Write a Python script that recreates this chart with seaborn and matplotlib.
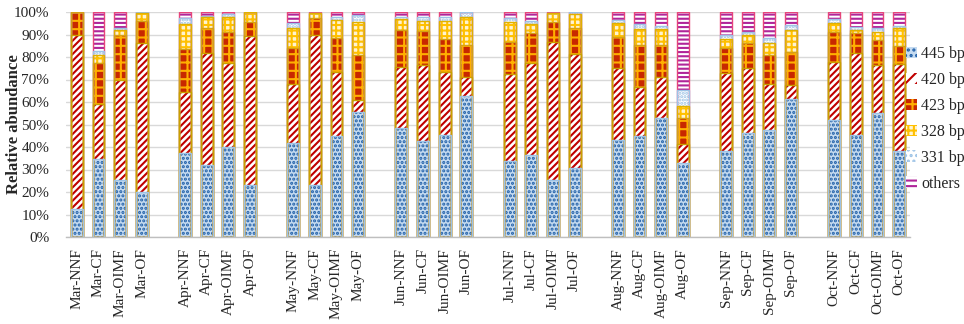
import pandas as pd
import numpy as np
import seaborn as sns
import matplotlib.pyplot as plt
from matplotlib.patches import Patch
from matplotlib.ticker import FuncFormatter

# samples, 8 months x 4 treatments
months = ['Mar', 'Apr', 'May', 'Jun', 'Jul', 'Aug', 'Sep', 'Oct']
treatments = ['NNF', 'CF', 'OIMF', 'OF']
samples = [f'{m}-{t}' for m in months for t in treatments]

# relative abundance (%)
bp445 = [12.5, 34.7, 25.5, 19.9, 37.5, 31.9, 40.0, 23.3,
         41.8, 23.0, 45.0, 55.5, 48.5, 42.6, 45.3, 62.8,
         33.7, 36.4, 25.5, 30.7, 43.0, 45.1, 52.7, 33.1,
         38.3, 46.3, 47.5, 61.3, 52.2, 45.3, 55.2, 38.3]
bp420 = [77.5, 24.3, 44.5, 66.5, 27.0, 50.0, 37.2, 66.0,
         26.4, 67.0, 28.4, 5.3, 27.2, 33.8, 28.1, 8.1,
         38.7, 40.8, 61.3, 50.6, 31.9, 21.7, 18.5, 8.1,
         34.4, 28.6, 20.3, 6.2, 25.7, 36.6, 21.2, 38.6]
bp423 = [10.0, 18.4, 20.0, 9.6, 19.0, 10.8, 13.8, 6.4,
         15.6, 7.3, 14.9, 20.1, 16.3, 15.3, 14.4, 14.4,
         14.4, 13.3, 8.9, 11.4, 14.1, 18.5, 14.1, 11.8,
         11.4, 11.1, 13.1, 14.8, 13.3, 8.6, 11.1, 8.0]
bp328 = [0.0, 3.3, 2.0, 3.4, 11.2, 4.9, 6.6, 4.3,
         8.9, 2.1, 8.1, 14.8, 4.7, 4.4, 8.3, 12.6,
         8.9, 4.2, 3.7, 6.4, 6.0, 7.0, 7.0, 5.2,
         3.7, 3.8, 5.5, 9.7, 4.1, 1.5, 3.7, 7.8]
bp331 = [0.0, 2.1, 0.9, 0.6, 2.5, 0.8, 1.5, 0.0,
         2.3, 0.2, 1.2, 3.0, 1.2, 1.5, 1.8, 2.1,
         1.5, 1.3, 0.2, 0.9, 1.4, 2.4, 1.5, 7.1,
         2.0, 1.1, 1.9, 2.2, 1.4, 1.2, 1.5, 1.1]
others = [0.0, 17.2, 7.1, 0.0, 2.8, 1.6, 0.9, 0.0,
          5.0, 0.4, 2.4, 1.3, 2.1, 2.4, 2.1, 0.0,
          2.8, 4.0, 0.4, 0.0, 3.6, 5.3, 6.2, 34.7,
          10.2, 9.1, 11.7, 5.8, 3.3, 6.8, 7.3, 6.2]

series_names = ['445 bp', '420 bp', '423 bp', '328 bp', '331 bp', 'others']
series_vals = [bp445, bp420, bp423, bp328, bp331, others]

# (face, hatch, hatch colour, border colour)
styles = {
    '445 bp': ('#C4DAF0', '....', '#1F5FA8', '#9DC3E6'),
    '420 bp': ('white', '/////', '#C00000', '#C9A000'),
    '423 bp': ('#C82800', '++', '#FFB000', '#D4A017'),
    '328 bp': ('#FFF3D0', '+++', '#FFC000', '#E0B000'),
    '331 bp': ('white', '.....', '#9DC3E6', '#9DC3E6'),
    'others': ('white', '----', '#B0259A', '#E6457A'),
}

df = pd.DataFrame({'sample': samples})
cum = np.zeros(len(samples))
for name, vals in zip(series_names, series_vals):
    cum = cum + np.array(vals)
    df[name] = cum.copy()
# normalise so every bar tops at 100 %
df[series_names] = df[series_names].div(df[series_names[-1]], axis=0) * 100

# category order with an empty slot between months
order = []
for i, m in enumerate(months):
    if i > 0:
        order.append(' ' * i)
    order += [f'{m}-{t}' for t in treatments]

sns.set_style('white')
plt.rcParams['font.family'] = ['Liberation Serif', 'DejaVu Serif']
plt.rcParams['hatch.linewidth'] = 1.5

fig, ax = plt.subplots(figsize=(9.64, 3.24), dpi=100)
fig.subplots_adjust(left=66 / 964, right=910 / 964, top=1 - 12 / 324, bottom=1 - 237 / 324)

# draw cumulative layers from the top down
for name in series_names[::-1]:
    face, hatch, hcol, bcol = styles[name]
    sns.barplot(data=df, x='sample', y=name, order=order, color=face, saturation=1,
                hatch=hatch, edgecolor=hcol, linewidth=0, width=0.55,
                errorbar=None, ax=ax, zorder=3)
    sns.barplot(data=df, x='sample', y=name, order=order, fill=False,
                edgecolor=bcol, linewidth=1.0, width=0.55,
                errorbar=None, ax=ax, zorder=4)

ax.set_ylim(0, 100)
ax.set_xlim(-0.5, len(order) - 0.5)
ax.set_yticks(np.arange(0, 101, 10))
ax.yaxis.set_major_formatter(FuncFormatter(lambda v, _: f'{v:.0f}%'))
ax.grid(axis='y', color='#D9D9D9', linewidth=1.0, zorder=0)
ax.set_axisbelow(True)
for s in ['top', 'right', 'left']:
    ax.spines[s].set_visible(False)
ax.spines['bottom'].set_color('#BFBFBF')
ax.spines['bottom'].set_linewidth(1.0)
ax.spines['bottom'].set_zorder(5)

ax.set_xlabel('')
ax.set_ylabel('Relative abundance', fontsize=12, fontweight='bold')
ax.yaxis.set_label_coords(-44 / 844, 0.5)
ax.tick_params(axis='both', length=0, labelsize=11)
ax.tick_params(axis='y', pad=12)
ax.tick_params(axis='x', pad=8)
plt.setp(ax.get_xticklabels(), rotation=90, va='top', ha='center')

handles = [Patch(facecolor=styles[n][0], hatch=styles[n][1][:3], edgecolor=styles[n][2],
                 linewidth=0) for n in series_names]
fig.legend(handles, series_names, loc='upper left', bbox_to_anchor=(906 / 964, 1 - 46 / 324),
           frameon=False, fontsize=11.5, handlelength=0.7, handleheight=0.7,
           handletextpad=0.25, labelspacing=0.62, borderaxespad=0, borderpad=0)

plt.savefig('out.png', dpi=100)
